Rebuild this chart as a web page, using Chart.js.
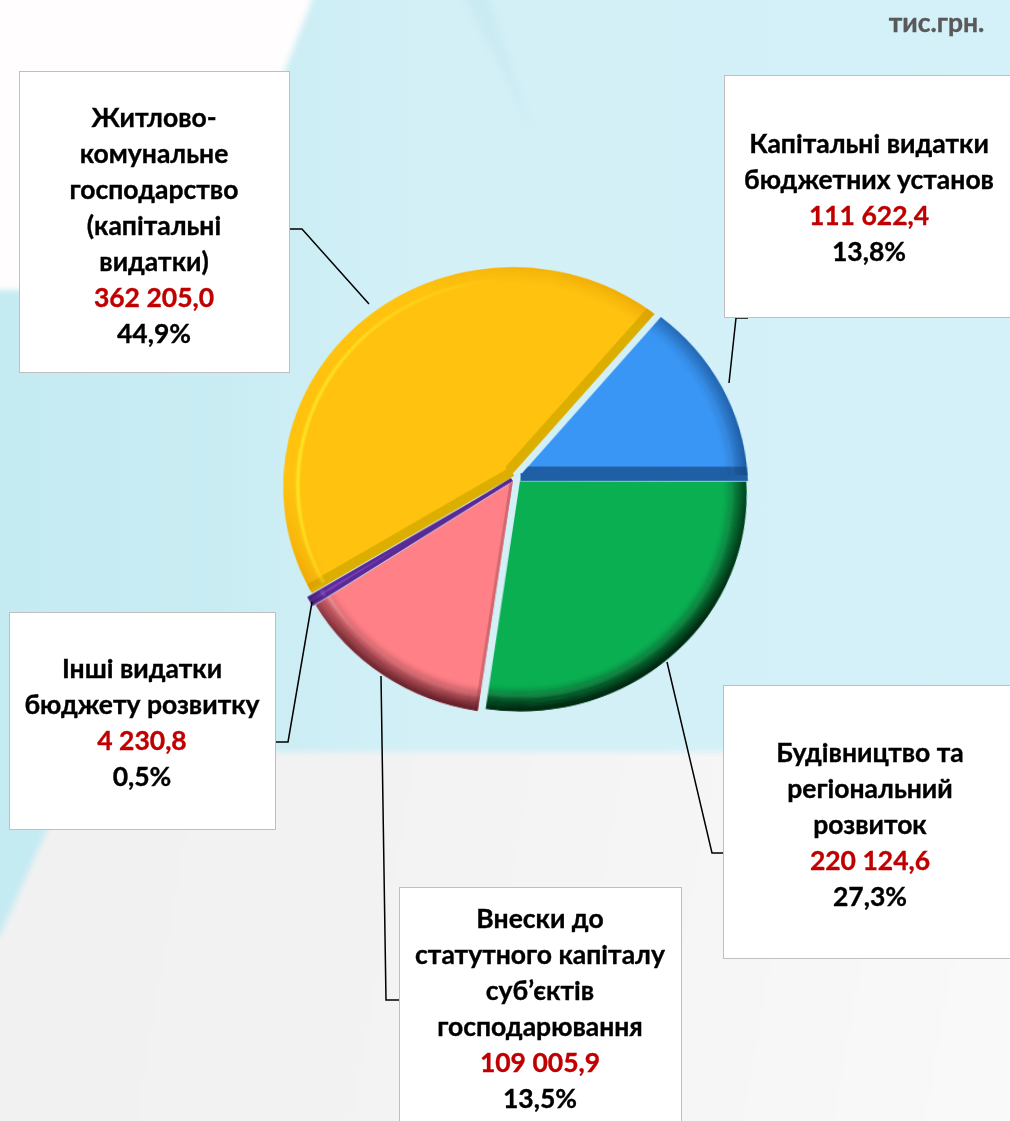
<!DOCTYPE html>
<html lang="uk">
<head>
<meta charset="utf-8">
<title>Капітальні видатки</title>
<script src="https://cdn.jsdelivr.net/npm/chart.js@4"></script>
<style>
html,body{margin:0;padding:0;width:1010px;height:1121px;overflow:hidden;background:#d3f0f7;font-family:Lato,"Open Sans","Noto Sans",sans-serif}
#bg{position:absolute;left:0;top:0;width:1010px;height:1121px;overflow:hidden}
#bg .blue{position:absolute;inset:0;background:linear-gradient(90deg,#c5ebf2 0,#c9ecf3 220px,#d3f0f7 420px,#d4f1f9 1010px)}
#bg .soft{position:absolute;left:-30px;top:-30px;width:1070px;height:1181px}
#bg .white{background:#fffdfd;clip-path:polygon(0 0,342px 0,342px 30px,230px 320px,0 320px)}
#bg .wedge{background:linear-gradient(90deg,#c6e8ef,#d0eef5);clip-path:polygon(495px 0,520px 0,520px 30px,562px 160px,495px 30px)}
#bg .low{background:linear-gradient(100deg,#f0f0f0 0,#f3f3f3 50%,#fafafa 100%);clip-path:polygon(112px 782px,1070px 782px,1070px 1181px,0 1181px,0 990px,30px 965px)}
#bg .blur3{position:absolute;inset:0;filter:blur(3px)}
#pie{position:absolute;left:236px;top:197px;width:560px;height:560px;transform:perspective(1123px) rotateX(17.2deg);transform-origin:50% 50%}
#lines{position:absolute;left:0;top:0}
.box{position:absolute;background:#fff;border:1px solid #bfbfbf;box-sizing:border-box;overflow:hidden}
.t{position:absolute;text-align:center;font-weight:700;font-size:26.5px;line-height:36px;color:#000;white-space:nowrap;-webkit-text-stroke:.35px currentColor}
.t.v{color:#c00000}
#unit{position:absolute;left:860px;width:153px;top:4px;text-align:center;font-weight:700;font-size:26.5px;line-height:36px;color:#595959;-webkit-text-stroke:.35px currentColor}
</style>
</head>
<body>
<div id="bg"><div class="blue"></div>
<div class="blur3"><div class="soft white"></div><div class="soft wedge"></div><div class="soft low"></div></div></div>
<canvas id="pie" width="560" height="560"></canvas>
<svg id="lines" width="1010" height="1121"></svg>
<div id="unit">тис.грн.</div>
<div id="boxes"></div>
<script>
const unitLabel = "тис.грн.";
const categories = [
  "Капітальні видатки бюджетних установ",
  "Будівництво та регіональний розвиток",
  "Внески до статутного капіталу суб’єктів господарювання",
  "Інші видатки бюджету розвитку",
  "Житлово-комунальне господарство (капітальні видатки)"
];
const values = [111622.4, 220124.6, 109005.9, 4230.8, 362205.0];
const valueLabels = ["111 622,4", "220 124,6", "109 005,9", "4 230,8", "362 205,0"];
const shareLabels = ["13,8%", "27,3%", "13,5%", "0,5%", "44,9%"];
const labelLines = [
  ["Капітальні видатки", "бюджетних установ"],
  ["Будівництво та", "регіональний", "розвиток"],
  ["Внески до", "статутного капіталу", "суб’єктів", "господарювання"],
  ["Інші видатки", "бюджету розвитку"],
  ["Житлово-", "комунальне", "господарство", "(капітальні", "видатки)"]
];
const sliceColors = ["#3996f5", "#0aaf52", "#ff8087", "#7a3db8", "#ffc30f"];
const sliceOffsets = [20, 24, 24, 20, 20];
const shadowRgb = ["20,70,130", "0,35,15", "90,25,35", "50,20,90", "225,150,0"];
const shadeTable = [[0,.25],[60,.45],[90,.6],[135,1],[180,1],[225,.75],[250,.25],[270,0],[330,0],[360,.25]];
const glowRgb = ["255,255,255","255,255,255","255,220,220","170,110,230","255,240,40"];
const glowTable = [[0,0],[20,0],[225,.1],[265,1],[300,.8],[340,.25],[360,0]];
// [inner width, colour, overhang beyond the slice edge]
const sideStyles = [
  [null, [9,"#1f5fa6",6]],
  [null, null],
  [[3,"#d2686f",0], null],
  [[2,"#5a2a96",2], [2,"#5a2a96",1]],
  [[7,"#dcae00",3], [10,"#dcae00",0]]
];
const boxRects = [[724,75,300,243],[723,685,300,274],[399,887,283,250],[9,612,267,218],[19,71,271,302]];
const boxCenterX = [869,870,540,142,154];
const boxFirstLine = [143,752,918,668,117];
const lineStep = 36;
const leaders = [
  [[748,318],[736,318],[729,383]],
  [[723,853],[712,853],[667,662]],
  [[399,1000],[386,1000],[381,676]],
  [[276,742],[288,742],[312,602]],
  [[290,229],[302,229],[369,304]]
];

document.getElementById("unit").textContent = unitLabel;
const svg = document.getElementById("lines");
leaders.forEach(p => {
  const l = document.createElementNS("http://www.w3.org/2000/svg","polyline");
  l.setAttribute("points", p.map(q => q.join(",")).join(" "));
  l.setAttribute("fill","none"); l.setAttribute("stroke","#000"); l.setAttribute("stroke-width","1.5");
  svg.appendChild(l);
});
const boxes = document.getElementById("boxes");
boxRects.forEach((r,i) => {
  const b = document.createElement("div");
  b.className = "box";
  b.style.cssText = `left:${r[0]}px;top:${r[1]}px;width:${r[2]}px;height:${r[3]}px`;
  const rows = labelLines[i].concat([valueLabels[i], shareLabels[i]]);
  rows.forEach((txt,k) => {
    const d = document.createElement("div");
    d.className = "t" + (k === rows.length-2 ? " v" : "");
    d.textContent = txt;
    const cx = boxCenterX[i] - r[0] - 1;
    d.style.left = (cx-200)+"px"; d.style.width = "400px";
    d.style.top = (boxFirstLine[i] - r[1] - 1 + k*lineStep - 18) + "px";
    b.appendChild(d);
  });
  boxes.appendChild(b);
});

function conic(ctx, cx, cy, table, rgb){
  const g = ctx.createConicGradient(-Math.PI/2, cx, cy);
  table.forEach(([deg,a]) => g.addColorStop(deg/360, `rgba(${rgb},${a})`));
  return g;
}
const bevel = {
  id: "bevel",
  afterDatasetsDraw(chart){
    const ctx = chart.ctx;
    chart.getDatasetMeta(0).data.forEach((arc,i) => {
      const {x,y,startAngle:s,endAngle:e,outerRadius:R0,circumference:c} = arc.getProps(["x","y","startAngle","endAngle","outerRadius","circumference"],true);
      const off = arc.options.offset/4, mid = (s+e)/2;
      const fix = 1 - Math.sin(Math.min(Math.PI, c));
      const R = R0 + off*fix;
      const cx = x+Math.cos(mid)*off, cy = y+Math.sin(mid)*off;
      // overhang strips close the gap towards the neighbouring slice
      [[s,sideStyles[i][0],-1],[e,sideStyles[i][1],1]].forEach(([ang,st,dir]) => {
        if(!st || !st[2]) return;
        const w = st[2]+2, h = (st[2]-2)/2;
        const nx = -Math.sin(ang)*dir*h, ny = Math.cos(ang)*dir*h;
        ctx.strokeStyle = st[1]; ctx.lineWidth = w;
        ctx.beginPath(); ctx.moveTo(cx+nx,cy+ny); ctx.lineTo(cx+nx+Math.cos(ang)*R,cy+ny+Math.sin(ang)*R); ctx.stroke();
      });
      ctx.save();
      ctx.beginPath(); ctx.moveTo(cx,cy); ctx.arc(cx,cy,R,s,e); ctx.closePath(); ctx.clip();
      [[s,sideStyles[i][0]],[e,sideStyles[i][1]]].forEach(([ang,st]) => {
        if(!st) return;
        ctx.strokeStyle = st[1]; ctx.lineWidth = st[0]*2;
        ctx.beginPath(); ctx.moveTo(cx,cy); ctx.lineTo(cx+Math.cos(ang)*R,cy+Math.sin(ang)*R); ctx.stroke();
      });
      const n = 24;
      ctx.lineWidth = 1.6; ctx.strokeStyle = conic(ctx,cx,cy,shadeTable,shadowRgb[i]);
      for(let k=0;k<n;k++){
        ctx.globalAlpha = Math.pow(1-k/n,1.5);
        ctx.beginPath(); ctx.arc(cx,cy,R-k-.5,s,e); ctx.stroke();
      }
      ctx.strokeStyle = conic(ctx,cx,cy,glowTable,glowRgb[i]);
      [[13,.3],[14.5,.75],[16,.4]].forEach(([d,a]) => {
        ctx.globalAlpha = a; ctx.lineWidth = 2;
        ctx.beginPath(); ctx.arc(cx,cy,R-d,s,e); ctx.stroke();
      });
      ctx.restore();
    });
  }
};
new Chart(document.getElementById("pie"), {
  type: "pie",
  data: { labels: categories, datasets: [{ data: values, backgroundColor: sliceColors, offset: sliceOffsets, borderWidth: 0 }] },
  options: {
    responsive: false, animation: false, rotation: 40.3, radius: 226,
    layout: { padding: 0 },
    plugins: { legend: { display: false }, tooltip: { enabled: false } }
  },
  plugins: [bevel]
});
</script>
</body>
</html>
